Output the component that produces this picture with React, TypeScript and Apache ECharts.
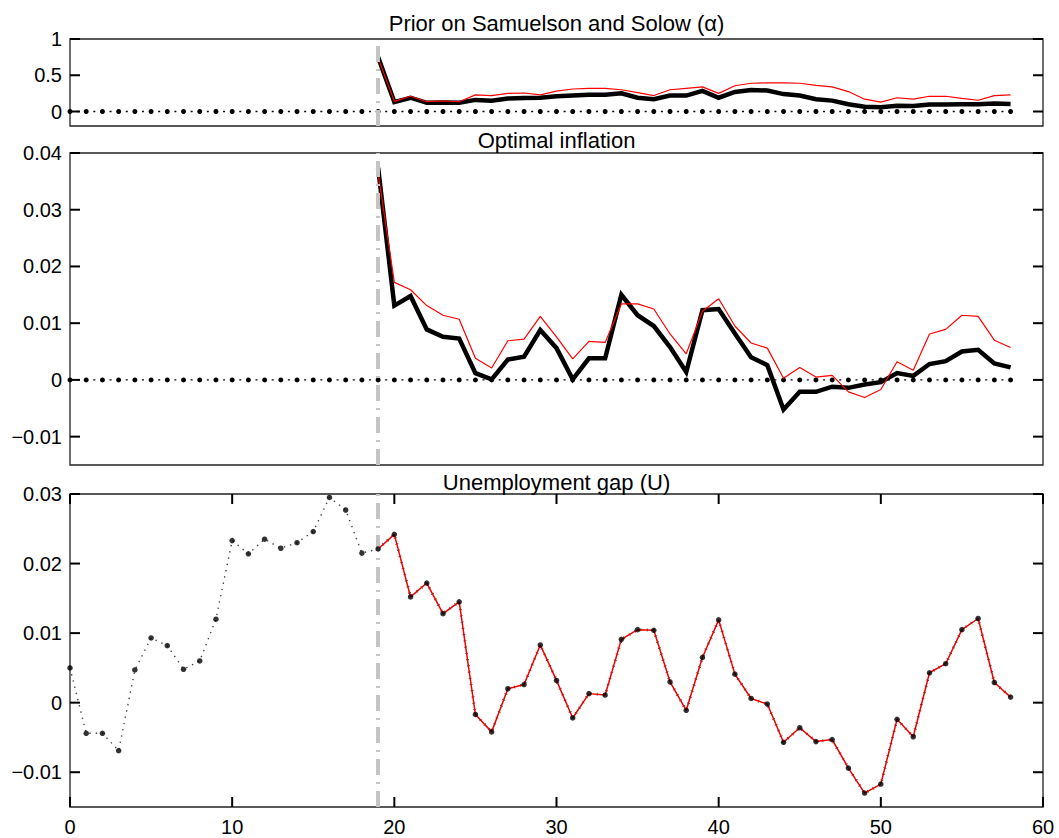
import React, { useEffect, useRef } from "react";
import * as echarts from "echarts";

// ---------------- data ----------------
const periods = [
  0, 1, 2, 3, 4, 5, 6, 7, 8, 9, 10, 11, 12, 13, 14, 15, 16, 17, 18, 19,
  20, 21, 22, 23, 24, 25, 26, 27, 28, 29, 30, 31, 32, 33, 34, 35, 36, 37, 38, 39,
  40, 41, 42, 43, 44, 45, 46, 47, 48, 49, 50, 51, 52, 53, 54, 55, 56, 57, 58,
];
const forecastStart = 19;
const forecastPeriods = periods.slice(forecastStart);

// Prior on Samuelson and Solow (alpha), periods 19..58
const alphaBlack = [
  0.75, 0.13, 0.19, 0.12, 0.125, 0.12, 0.16, 0.15, 0.18, 0.185,
  0.19, 0.21, 0.22, 0.23, 0.23, 0.25, 0.19, 0.17, 0.22, 0.22,
  0.285, 0.19, 0.27, 0.295, 0.29, 0.24, 0.22, 0.17, 0.15, 0.1,
  0.065, 0.06, 0.08, 0.075, 0.095, 0.095, 0.1, 0.1, 0.11, 0.105,
];
const alphaRed = [
  0.74, 0.14, 0.21, 0.135, 0.145, 0.135, 0.23, 0.22, 0.25, 0.255,
  0.23, 0.28, 0.31, 0.32, 0.32, 0.3, 0.26, 0.22, 0.3, 0.32,
  0.34, 0.25, 0.355, 0.39, 0.395, 0.395, 0.39, 0.36, 0.34, 0.275,
  0.17, 0.13, 0.19, 0.17, 0.21, 0.21, 0.18, 0.155, 0.22, 0.23,
];

// Optimal inflation, periods 19..58
const inflBlack = [
  0.0374, 0.0131, 0.0148, 0.0089, 0.0076, 0.0073, 0.0012, 0.0001, 0.0036, 0.0041,
  0.0088, 0.0056, 0.0001, 0.0038, 0.0038, 0.015, 0.0114, 0.0095, 0.0058, 0.0014,
  0.0123, 0.0125, 0.0082, 0.004, 0.0026, -0.0052, -0.0021, -0.0021, -0.0012, -0.0014,
  -0.0008, -0.0004, 0.0012, 0.0007, 0.0028, 0.0033, 0.005, 0.0053, 0.0029, 0.0022,
];
const inflRed = [
  0.0365, 0.0172, 0.0159, 0.0131, 0.0114, 0.0107, 0.0038, 0.0021, 0.0069, 0.0072,
  0.0112, 0.0076, 0.0037, 0.0068, 0.0066, 0.0134, 0.0134, 0.0125, 0.0081, 0.0046,
  0.0121, 0.0143, 0.0095, 0.0065, 0.0056, 0.0003, 0.0022, 0.0005, 0.0008, -0.0021,
  -0.0031, -0.0017, 0.0032, 0.0017, 0.0081, 0.0089, 0.0114, 0.0112, 0.007, 0.0057,
];

// Unemployment gap (U), periods 0..58
const unemploymentGap = [
  0.005, -0.0044, -0.0044, -0.0069, 0.0047, 0.0093, 0.0082, 0.0048, 0.006, 0.012,
  0.0233, 0.0214, 0.0235, 0.0222, 0.023, 0.0246, 0.0295, 0.0277, 0.0215, 0.0221,
  0.0242, 0.0152, 0.0172, 0.0128, 0.0145, -0.0017, -0.0042, 0.002, 0.0026, 0.0083,
  0.0032, -0.0022, 0.0013, 0.0011, 0.0091, 0.0105, 0.0104, 0.003, -0.0011, 0.0065,
  0.0119, 0.0041, 0.0006, -0.0002, -0.0057, -0.0036, -0.0056, -0.0053, -0.0094, -0.013,
  -0.0117, -0.0024, -0.0049, 0.0043, 0.0056, 0.0105, 0.0121, 0.0029, 0.0008,
];

const titles = [
  "Prior on Samuelson and Solow (\u03b1)",
  "Optimal inflation",
  "Unemployment gap (U)",
];
const xTicks = [0, 10, 20, 30, 40, 50, 60];
const alphaTicks = [0, 0.5, 1];
const inflTicks = [-0.01, 0, 0.01, 0.02, 0.03, 0.04];
const gapTicks = [-0.01, 0, 0.01, 0.02, 0.03];
const alphaRange = [-0.2, 1];
const inflRange = [-0.015, 0.04];
const gapRange = [-0.015, 0.03];

// ---------------- chart ----------------
const FONT = "'Liberation Sans', Arial, Helvetica, sans-serif";
const FS = 20;
const TITLE_FS = 22;
const TICK_LEN = 10;
const TICK_STYLE = { stroke: "#000", lineWidth: 2 };

function fmt(v: number) {
  return v < 0 ? "\u2212" + String(-v) : String(v);
}

export default function App() {
  const ref = useRef<HTMLDivElement>(null);

  useEffect(() => {
    if (!ref.current) return;
    const chart = echarts.init(ref.current, undefined, { renderer: "svg" });

    const gridBase = {
      left: 70,
      width: 973,
      show: true,
      borderColor: "#222",
      borderWidth: 1.3,
      backgroundColor: "transparent",
    };
    const grids = [
      { ...gridBase, top: 39, height: 87 },
      { ...gridBase, top: 153, height: 312 },
      { ...gridBase, top: 494, height: 313 },
    ];

    const axLine = { show: false, onZero: false };

    const xAxes: any[] = [0, 1, 2].map((g) => ({
      type: "value",
      gridIndex: g,
      position: "bottom",
      min: 0,
      max: 60,
      interval: 10,
      axisLine: axLine,
      splitLine: { show: false },
      axisTick: { show: false },
      axisLabel: {
        show: g === 2,
        fontSize: FS,
        fontFamily: FONT,
        color: "#000",
        margin: 10,
      },
    }));

    const ranges = [alphaRange, inflRange, gapRange];
    const ticks = [alphaTicks, inflTicks, gapTicks];
    const yAxes: any[] = [0, 1, 2].map((g) => ({
      type: "value",
      gridIndex: g,
      position: "left",
      min: ranges[g][0],
      max: ranges[g][1],
      axisLine: axLine,
      splitLine: { show: false },
      axisTick: { show: false },
      axisLabel: {
        show: true,
        fontSize: FS,
        fontFamily: FONT,
        color: "#000",
        margin: 8,
        customValues: ticks[g],
        formatter: (v: number) => fmt(v),
      },
    }));

    // inward tick marks on both sides (placed through the axis scales)
    const yTickSeries = (g: number) => ({
      type: "custom",
      xAxisIndex: g,
      yAxisIndex: g,
      silent: true,
      clip: false,
      z: 20,
      data: ticks[g].map((v) => [0, v]),
      renderItem: (params: any, api: any) => {
        const cs = params.coordSys;
        const y = api.coord([0, api.value(1)])[1];
        return {
          type: "group",
          children: [
            { type: "line", shape: { x1: cs.x, y1: y, x2: cs.x + TICK_LEN, y2: y }, style: TICK_STYLE },
            {
              type: "line",
              shape: { x1: cs.x + cs.width - TICK_LEN, y1: y, x2: cs.x + cs.width, y2: y },
              style: TICK_STYLE,
            },
          ],
        };
      },
    });
    const xTickSeries = {
      type: "custom",
      xAxisIndex: 2,
      yAxisIndex: 2,
      silent: true,
      clip: false,
      z: 20,
      data: xTicks.map((v) => [v, 0]),
      renderItem: (params: any, api: any) => {
        const cs = params.coordSys;
        const x = api.coord([api.value(0), 0])[0];
        return {
          type: "group",
          children: [
            { type: "line", shape: { x1: x, y1: cs.y, x2: x, y2: cs.y + TICK_LEN }, style: TICK_STYLE },
            {
              type: "line",
              shape: { x1: x, y1: cs.y + cs.height - TICK_LEN, x2: x, y2: cs.y + cs.height },
              style: TICK_STYLE,
            },
          ],
        };
      },
    };

    const vLine = {
      silent: true,
      symbol: ["none", "none"],
      label: { show: false },
      lineStyle: { color: "#c4c4c4", width: 4, type: [16, 7, 2, 7] },
      data: [{ xAxis: forecastStart }],
    };

    const zeroLine = (g: number) => ({
      type: "line",
      xAxisIndex: g,
      yAxisIndex: g,
      data: periods.map((p) => [p, 0]),
      symbol: "circle",
      symbolSize: 5,
      itemStyle: { color: "#000" },
      lineStyle: { color: "#000", width: 1.3, type: [2, 6.108], dashOffset: 1 },
      markLine: vLine,
      z: 2,
    });

    const thickLine = (g: number, vals: number[]) => ({
      type: "line",
      xAxisIndex: g,
      yAxisIndex: g,
      data: forecastPeriods.map((p, i) => [p, vals[i]]),
      symbol: "none",
      lineStyle: { color: "#000", width: 4.5, join: "miter", miterLimit: 4 },
      z: 3,
    });
    const redLine = (g: number, vals: number[], width = 1.2) => ({
      type: "line",
      xAxisIndex: g,
      yAxisIndex: g,
      data: forecastPeriods.map((p, i) => [p, vals[i]]),
      symbol: "none",
      lineStyle: { color: "#ff0000", width },
      z: 4,
    });

    const histPeriods = periods.slice(0, forecastStart + 1);

    const series: any[] = [
      zeroLine(0),
      thickLine(0, alphaBlack),
      redLine(0, alphaRed),
      zeroLine(1),
      thickLine(1, inflBlack),
      redLine(1, inflRed),
      {
        type: "line",
        xAxisIndex: 2,
        yAxisIndex: 2,
        data: histPeriods.map((p) => [p, unemploymentGap[p]]),
        symbol: "none",
        lineStyle: { color: "#444", width: 1.4, type: [1.4, 5] },
        markLine: vLine,
        z: 2,
      },
      {
        type: "line",
        xAxisIndex: 2,
        yAxisIndex: 2,
        data: forecastPeriods.map((p) => [p, unemploymentGap[p]]),
        symbol: "none",
        lineStyle: { color: "#333", width: 3, type: [0.8, 5.5] },
        z: 3,
      },
      {
        type: "line",
        xAxisIndex: 2,
        yAxisIndex: 2,
        data: forecastPeriods.map((p) => [p, unemploymentGap[p]]),
        symbol: "none",
        lineStyle: { color: "#ee0000", width: 1.5 },
        z: 4,
      },
      {
        type: "scatter",
        xAxisIndex: 2,
        yAxisIndex: 2,
        data: periods.map((p) => [p, unemploymentGap[p]]),
        symbol: "circle",
        symbolSize: 5.5,
        itemStyle: { color: "#000" },
        z: 5,
      },
      yTickSeries(0),
      yTickSeries(1),
      yTickSeries(2),
      xTickSeries,
    ];

    const titleY = [23, 140, 482];

    chart.setOption({
      animation: false,
      backgroundColor: "#fff",
      grid: grids,
      xAxis: xAxes,
      yAxis: yAxes,
      series,
      graphic: titles.map((t, i) => ({
        type: "text",
        x: 556.5,
        y: titleY[i],
        silent: true,
        style: {
          text: t,
          fontSize: TITLE_FS,
          fontFamily: FONT,
          fill: "#000",
          align: "center",
          verticalAlign: "middle",
        },
      })),
    });

    return () => chart.dispose();
  }, []);

  return (
    <div
      ref={ref}
      style={{ position: "fixed", left: 0, top: 0, width: 1059, height: 838 }}
    />
  );
}
